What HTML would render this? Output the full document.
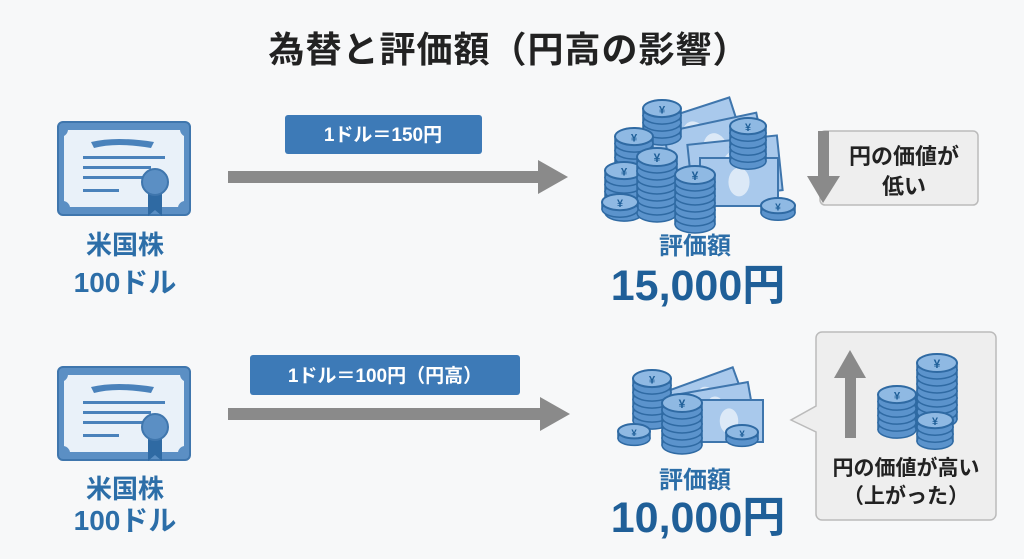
<!DOCTYPE html>
<html><head><meta charset="utf-8">
<style>
html,body{margin:0;padding:0;background:#f7f8f9;}
svg{display:block}
text{font-family:"Liberation Sans","Noto Sans CJK JP",sans-serif;font-weight:bold}
</style></head>
<body>
<svg id="s" width="1024" height="559" viewBox="0 0 1024 559" xmlns="http://www.w3.org/2000/svg">
<rect width="1024" height="559" fill="#f7f8f9"/>
<text x="509" y="62" font-size="36" text-anchor="middle" fill="#222" letter-spacing="1">為替と評価額（円高の影響）</text>

<!-- certificates -->
<g id="cert1" transform="translate(58,122)">
 <rect x="0" y="0" width="132" height="93" rx="5" fill="#5b8fc4" stroke="#3f76ad" stroke-width="2"/>
 <path d="M10 8 H122 A8 8 0 0 0 126 14 V79 A8 8 0 0 0 120 85 H12 A8 8 0 0 0 6 79 V14 A8 8 0 0 0 10 8Z" fill="#e9f1f9"/>
 <path d="M33 20 Q58 14 96 20 L93 26 Q58 20 36 26Z" fill="#4a82bb"/>
 <rect x="25" y="34" width="82" height="3" fill="#4a82bb"/>
 <rect x="25" y="44" width="68" height="3" fill="#4a82bb"/>
 <rect x="25" y="54" width="60" height="3" fill="#4a82bb"/>
 <rect x="25" y="67" width="36" height="3" fill="#4a82bb"/>
 <path d="M90 68 L90 94 L97 88 L104 94 L104 68Z" fill="#2f6aa3"/>
 <circle cx="97" cy="60" r="13" fill="#5b8fc4" stroke="#3f76ad" stroke-width="2"/>
</g>
<use href="#cert1" transform="translate(0,245)"/>

<text x="125" y="254" font-size="26" text-anchor="middle" fill="#2c6ea8">米国株</text>
<text x="125" y="292" font-size="28" text-anchor="middle" fill="#2c6ea8">100ドル</text>
<text x="125" y="498" font-size="26" text-anchor="middle" fill="#2c6ea8">米国株</text>
<text x="125" y="530" font-size="28" text-anchor="middle" fill="#2c6ea8">100ドル</text>

<!-- arrows -->
<rect x="228" y="171" width="314" height="12" fill="#8a8a8a"/>
<path d="M538 160 L568 177 L538 194Z" fill="#8a8a8a"/>
<rect x="228" y="408" width="316" height="12" fill="#8a8a8a"/>
<path d="M540 397 L570 414 L540 431Z" fill="#8a8a8a"/>

<rect x="285" y="115" width="197" height="39" rx="3" fill="#3d7ab7"/>
<text x="383" y="141" font-size="19" text-anchor="middle" fill="#fff">1ドル＝150円</text>
<rect x="250" y="355" width="270" height="40" rx="3" fill="#3d7ab7"/>
<text x="385" y="382" font-size="19" text-anchor="middle" fill="#fff">1ドル＝100円（円高）</text>

<text x="695" y="254" font-size="24" text-anchor="middle" fill="#2c6ea8">評価額</text>
<text x="698" y="300" font-size="43" text-anchor="middle" fill="#1f5f98">15,000円</text>
<text x="695" y="488" font-size="24" text-anchor="middle" fill="#2c6ea8">評価額</text>
<text x="698" y="532" font-size="43" text-anchor="middle" fill="#1f5f98">10,000円</text>

<!-- callout 1 -->
<rect x="820" y="131" width="158" height="74" rx="5" fill="#eeeeee" stroke="#bbb" stroke-width="1.5"/>
<rect x="818" y="131" width="11" height="46" fill="#8a8a8a"/>
<path d="M807 176 L840 176 L823 203Z" fill="#8a8a8a"/>
<text x="904" y="164" font-size="22" text-anchor="middle" fill="#222">円の価値が</text>
<text x="904" y="194" font-size="22" text-anchor="middle" fill="#222">低い</text>

<!-- callout 2 -->
<path d="M822 332 H990 A6 6 0 0 1 996 338 V514 A6 6 0 0 1 990 520 H822 A6 6 0 0 1 816 514 V432 L791 420 L816 406 V338 A6 6 0 0 1 822 332Z" fill="#eeeeee" stroke="#bbb" stroke-width="1.5"/>
<rect x="845" y="372" width="11" height="66" fill="#8a8a8a"/>
<path d="M834 378 L850 350 L866 378Z" fill="#8a8a8a"/>
<text x="906" y="475" font-size="21" text-anchor="middle" fill="#222">円の価値が高い</text>
<text x="906" y="503" font-size="21" text-anchor="middle" fill="#222">（上がった）</text>

<g id="money"></g>
</svg>
<script>
const NS="http://www.w3.org/2000/svg";
const g=document.getElementById('money');
function el(t,a){const e=document.createElementNS(NS,t);for(const k in a)e.setAttribute(k,a[k]);g.appendChild(e);return e;}
function bill(x,y,w,h,rot){
 const gg=el('g',{transform:`rotate(${rot} ${x+w/2} ${y+h/2})`});
 const r=document.createElementNS(NS,'rect');
 [['x',x],['y',y],['width',w],['height',h],['fill','#a9c9ec'],['stroke','#3f76ad'],['stroke-width',2]].forEach(a=>r.setAttribute(a[0],a[1]));gg.appendChild(r);
 const c=document.createElementNS(NS,'ellipse');
 [['cx',x+w/2],['cy',y+h/2],['rx',h*0.22],['ry',h*0.3],['fill','#dce9f7']].forEach(a=>c.setAttribute(a[0],a[1]));gg.appendChild(c);
}
function stack(cx,top,n,rx){
 const ry=rx*0.45,step=7;
 for(let i=n-1;i>=0;i--){
  const y=top+i*step+ry;
  el('rect',{x:cx-rx,y:y,width:rx*2,height:step,fill:'#5b93cc',stroke:'#2f6aa3','stroke-width':1.5});
  el('ellipse',{cx:cx,cy:y+step,rx:rx,ry:ry,fill:'#5b93cc',stroke:'#2f6aa3','stroke-width':1.5});
 }
 el('ellipse',{cx:cx,cy:top+ry,rx:rx,ry:ry,fill:'#8fb9e3',stroke:'#2f6aa3','stroke-width':2});
 const t=el('text',{x:cx,y:top+ry+5,'font-size':rx*0.6,'text-anchor':'middle',fill:'#1f5f98'});t.textContent='¥';
}
// group 1
bill(650,110,90,55,-18);bill(668,122,95,55,-12);bill(690,140,90,55,-6);bill(700,158,78,48,0);
stack(662,100,4,19);stack(748,118,5,18);stack(634,128,5,19);
stack(624,162,6,19);stack(657,148,8,20);stack(695,166,7,20);
stack(620,194,1,18);stack(778,198,1,17);
// group 2
bill(672,378,70,42,-20);bill(680,388,72,42,-10);bill(695,400,68,42,0);
stack(652,370,6,19);stack(682,394,6,20);stack(634,424,1,16);stack(742,425,1,16);
// callout coins
stack(937,354,8,20);stack(897,386,5,19);stack(935,412,3,18);
</script>
</body></html>
